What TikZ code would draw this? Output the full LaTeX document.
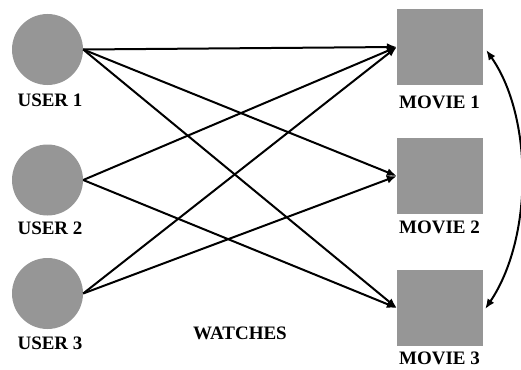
\documentclass[tikz,border=0pt]{standalone}
\usepackage{fontspec}
\setmainfont{Liberation Serif}
\usepackage{tikz}
\usetikzlibrary{arrows.meta,positioning,calc}
\definecolor{shadegray}{RGB}{150,150,150}

\begin{document}
\begin{tikzpicture}[x=1pt,y=-1pt,
    user/.style={circle,fill=shadegray,minimum size=71pt,inner sep=0pt},
    movie/.style={rectangle,fill=shadegray,minimum width=86pt,minimum height=76pt,inner sep=0pt},
    lbl/.style={font=\fontsize{19}{22}\selectfont\bfseries,inner sep=0pt},
    watch/.style={line width=2pt,-{Latex[length=10pt,width=8pt]}}]
      \useasboundingbox (0,0) rectangle (521,369);

      \node[user](u1) at (47.5,49.5){};
      \node[user](u2) at (47.5,180){};
      \node[user](u3) at (47.5,293.5){};
      \node[movie](m1) at (440,47){};
      \node[movie](m2) at (440,176){};
      \node[movie](m3) at (440,308){};

      \node[lbl] at (50,100.3)(l1){USER 1};
      \node[lbl] at (50,228.3)(l2){USER 2};
      \node[lbl] at (50,343.3)(l3){USER 3};
      \node[lbl] at (439.5,102.7)(k1){MOVIE 1};
      \node[lbl] at (439.5,227)(k2){MOVIE 2};
      \node[lbl] at (439.5,358.5)(k3){MOVIE 3};
      \node[lbl] at (240,333)(w){WATCHES};

      \draw[watch] (u1.east) -- (m1.west);
      \draw[watch] (u1.east) -- (m2.west);
      \draw[watch] (u1.east) -- (m3.west);
      \draw[watch] (u2.east) -- (m1.west);
      \draw[watch] (u2.east) -- (m3.west);
      \draw[watch] (u3.east) -- (m1.west);
      \draw[watch] (u3.east) -- (m2.west);
      \draw[line width=2pt,{Latex[length=10pt,width=8pt]}-{Latex[length=10pt,width=8pt]}]
        ($(m1.east)+(3,3)$) .. controls ($(m1.east)+(50,70)$) and ($(m3.east)+(50,-70)$) .. ($(m3.east)+(2,1)$);
\end{tikzpicture}
\end{document}
